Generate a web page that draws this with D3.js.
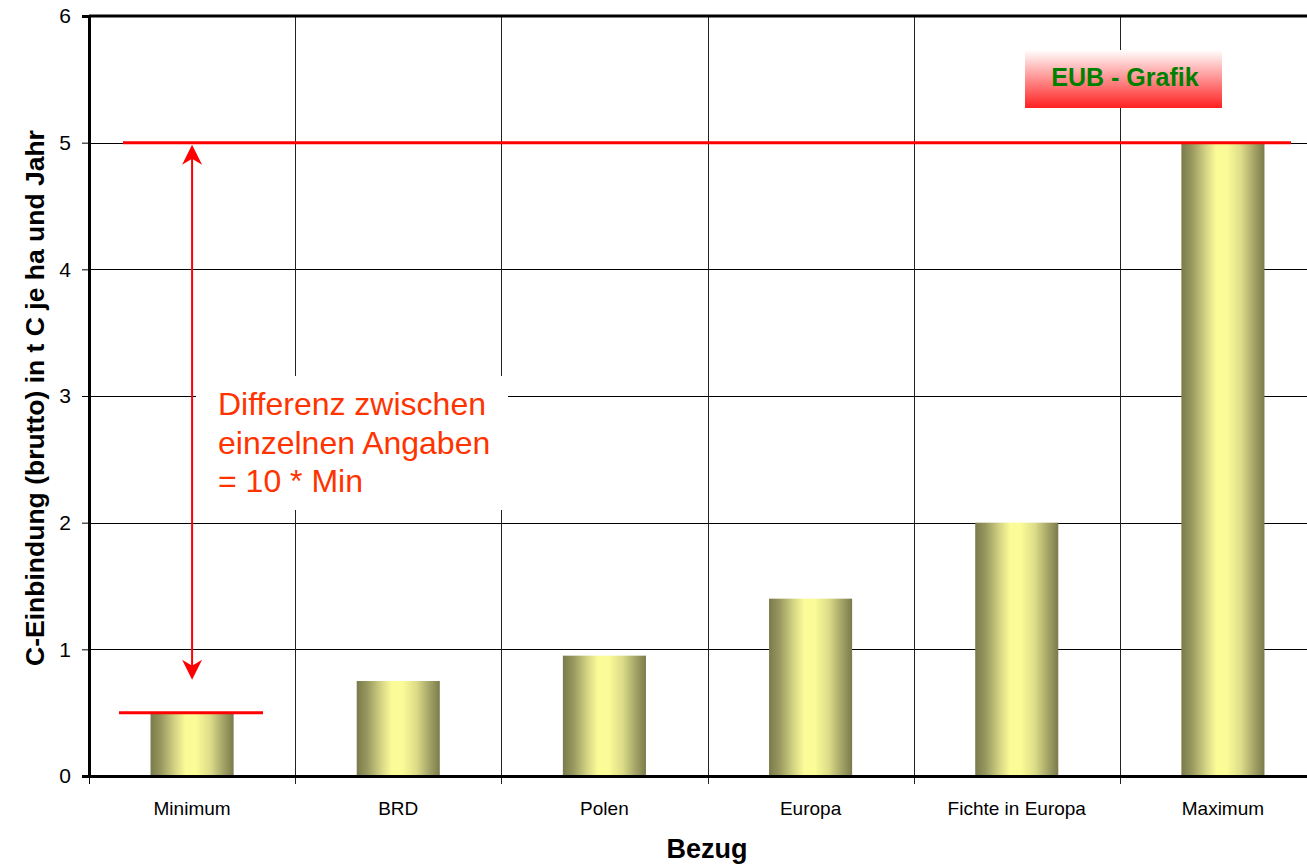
<!DOCTYPE html>
<html>
<head>
<meta charset="utf-8">
<script src="https://cdn.jsdelivr.net/npm/d3@7"></script>
<style>
  html, body { margin: 0; padding: 0; background: #fff; overflow: hidden; }
  svg { display: block; font-family: "Liberation Sans", Arial, sans-serif; }
</style>
</head>
<body>
<svg id="chart" width="1307" height="867"></svg>
<script>
// Categories and values (t C per ha and year)
const categories = ["Minimum", "BRD", "Polen", "Europa", "Fichte in Europa", "Maximum"];
const values = [0.5, 0.75, 0.95, 1.4, 2.0, 5.0];
const yTicks = [0, 1, 2, 3, 4, 5, 6];

const minValue = 0.5;
const maxValue = 5.0;
const arrowLow = 0.76;

const svg = d3.select("#chart");
const margin = { left: 89, top: 16, bottom: 91 };
const plotW = 1237;
const plotH = 867 - margin.top - margin.bottom;

const x = d3.scaleBand().domain(categories).range([margin.left, margin.left + plotW]).paddingInner(0).paddingOuter(0);
const y = d3.scaleLinear().domain([0, 6]).range([margin.top + plotH, margin.top]);
const barW = x.bandwidth() * 0.403;

const defs = svg.append("defs");
const grad = defs.append("linearGradient").attr("id", "barGrad").attr("x1", "0").attr("x2", "1").attr("y1", "0").attr("y2", "0");
[[0, "#7b7b4b"], [0.12, "#96965e"], [0.3, "#d6d685"], [0.42, "#fbfb98"], [0.55, "#fbfb98"], [0.72, "#dcdc88"], [0.88, "#a2a266"], [1, "#7b7b4b"]]
  .forEach(([o, c]) => grad.append("stop").attr("offset", o).attr("stop-color", c));

const tagGrad = defs.append("linearGradient").attr("id", "tagGrad").attr("x1", "0").attr("x2", "0").attr("y1", "0").attr("y2", "1");
[[0, "#ffffff"], [0.45, "#ff9a9a"], [1, "#ff2020"]]
  .forEach(([o, c]) => tagGrad.append("stop").attr("offset", o).attr("stop-color", c));

// Horizontal gridlines
svg.append("g").selectAll("line").data(yTicks.slice(1, 6)).join("line")
  .attr("x1", margin.left).attr("x2", margin.left + plotW)
  .attr("y1", d => Math.round(y(d)) + 0.5).attr("y2", d => Math.round(y(d)) + 0.5)
  .attr("stroke", "#000").attr("stroke-width", 1);

// Vertical gridlines at category boundaries
const bounds = categories.slice(1).map(c => x(c));
svg.append("g").selectAll("line").data(bounds).join("line")
  .attr("x1", d => Math.round(d) + 0.5).attr("x2", d => Math.round(d) + 0.5)
  .attr("y1", margin.top).attr("y2", y(0) + 8)
  .attr("stroke", "#222").attr("stroke-width", 1);

// Bars
svg.append("g").selectAll("rect").data(values).join("rect")
  .attr("x", (d, i) => x(categories[i]) + (x.bandwidth() - barW) / 2)
  .attr("width", barW)
  .attr("y", d => y(d))
  .attr("height", d => y(0) - y(d))
  .attr("fill", "url(#barGrad)");

// Annotation text box (white background hides gridlines)
const box = svg.append("g");
box.append("rect").attr("x", 196).attr("y", 376).attr("width", 312).attr("height", 134).attr("fill", "#fff");
const noteLines = ["Differenz zwischen", "einzelnen Angaben", "= 10 * Min"];
box.selectAll("text").data(noteLines).join("text")
  .attr("x", 218).attr("y", (d, i) => 415 + i * 38.5)
  .attr("font-size", 32).attr("fill", "#ff3300")
  .text(d => d);

// Axes
const yAxis = d3.axisLeft(y).tickValues(yTicks).tickSize(7).tickFormat(d3.format("d"));
const gy = svg.append("g").attr("transform", `translate(${margin.left},0)`).call(yAxis);
gy.select(".domain").attr("stroke-width", 3).attr("stroke", "#000");
gy.selectAll(".tick line").attr("stroke", "#000").attr("stroke-width", 1);
gy.selectAll(".tick text").attr("font-size", 21).attr("x", -18).attr("fill", "#000")
  .attr("font-family", "Liberation Sans, Arial, sans-serif");

// Bottom axis line and ticks at boundaries
svg.append("line").attr("x1", margin.left).attr("x2", margin.left + plotW)
  .attr("y1", y(0) + 0.5).attr("y2", y(0) + 0.5).attr("stroke", "#000").attr("stroke-width", 3);
svg.append("line").attr("x1", margin.left + 0.5).attr("x2", margin.left + 0.5)
  .attr("y1", y(0)).attr("y2", y(0) + 8).attr("stroke", "#000").attr("stroke-width", 1);
svg.append("g").selectAll("text").data(categories).join("text")
  .attr("x", d => x(d) + x.bandwidth() / 2).attr("y", y(0) + 39)
  .attr("text-anchor", "middle").attr("font-size", 19).attr("fill", "#000")
  .text(d => d);

// Top border of the plot
svg.append("line").attr("x1", margin.left).attr("x2", margin.left + plotW)
  .attr("y1", margin.top).attr("y2", margin.top).attr("stroke", "#000").attr("stroke-width", 3);

// Red reference lines at maximum and minimum
svg.append("line").attr("x1", 123).attr("x2", 1291)
  .attr("y1", y(maxValue)).attr("y2", y(maxValue)).attr("stroke", "#ff0000").attr("stroke-width", 3);
svg.append("line").attr("x1", 119).attr("x2", 263)
  .attr("y1", y(minValue)).attr("y2", y(minValue)).attr("stroke", "#ff0000").attr("stroke-width", 3);

// Double-headed arrow between min and max
const ax = x(categories[0]) + x.bandwidth() / 2;
svg.append("line").attr("x1", ax).attr("x2", ax)
  .attr("y1", y(maxValue) + 12).attr("y2", y(arrowLow) - 12)
  .attr("stroke", "#ff0000").attr("stroke-width", 2);
const head = (tipY, dir) => `M${ax},${tipY} L${ax - 10},${tipY + dir * 20} L${ax},${tipY + dir * 14} L${ax + 10},${tipY + dir * 20} Z`;
svg.append("path").attr("d", head(y(maxValue) + 2, 1)).attr("fill", "#ff0000");
svg.append("path").attr("d", head(y(arrowLow), -1)).attr("fill", "#ff0000");

// Badge
svg.append("rect").attr("x", 1025).attr("y", 50).attr("width", 197).attr("height", 58).attr("fill", "url(#tagGrad)");
svg.append("text").attr("x", 1125).attr("y", 86).attr("text-anchor", "middle")
  .attr("font-size", 25).attr("font-weight", "bold").attr("fill", "#008000").text("EUB - Grafik");

// Axis titles
svg.append("text").attr("transform", `translate(44,398) rotate(-90)`)
  .attr("text-anchor", "middle").attr("font-size", 26.5).attr("font-weight", "bold").attr("fill", "#000")
  .text("C-Einbindung (brutto) in t C je ha und Jahr");
svg.append("text").attr("x", 707).attr("y", 858).attr("text-anchor", "middle")
  .attr("font-size", 27).attr("font-weight", "bold").attr("fill", "#000").text("Bezug");
</script>
</body>
</html>
